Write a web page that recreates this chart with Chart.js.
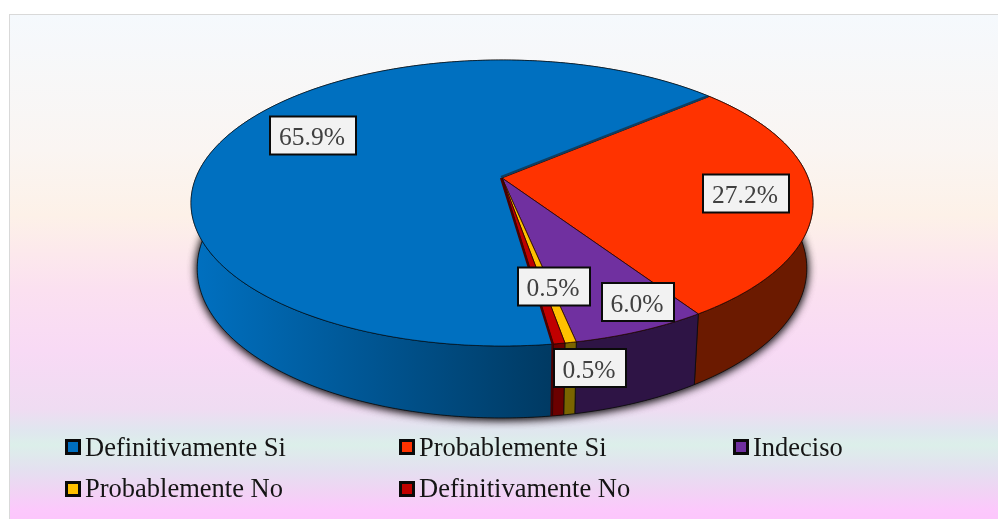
<!DOCTYPE html>
<html>
<head>
<meta charset="utf-8">
<style>html,body{margin:0;padding:0;background:#fff}#w{width:998px;height:519px;position:relative}</style>
<script src="https://cdn.jsdelivr.net/npm/chart.js@4/dist/chart.umd.js"></script>
</head>
<body>
<div id="w"><canvas id="c" width="998" height="519"></canvas></div>
<script>
const categories = ["Definitivamente Si","Probablemente Si","Indeciso","Probablemente No","Definitivamente No"];
const values = [65.9,27.2,6.0,0.5,0.5];
const valueLabels = ["65.9%","27.2%","6.0%","0.5%","0.5%"];
const topColors = ["#0070C0","#FF3300","#7030A0","#FFC000","#C00000"];
const wallColors = [null,"#6B1A00","#2E1445","#7A6400","#6B0000"];

// projection of the unit pie disc on the screen
const P = {x0:502,y0:178,b:306.2,a:138.6,k:0.1748,wx:0.98,dMid:64,dV:8};
// label boxes: centre on the screen, width
const labelBoxes = [[313,135.5,86],[746,193.5,86],[638,302,72],[554,286.5,72],[590,368,72]];
const legendCols = [65,399,733], legendRows = [439,481], legendBaselines = [456,497];

function rimTop(t){const u=Math.cos(t),v=Math.sin(t),w=1-P.k*v;
  return [P.x0+P.b*u/w, P.y0+P.a*v/w, v];}
function rimBot(t){const p=rimTop(t);
  return [P.x0+(p[0]-P.x0)*P.wx, p[1]+P.dMid+P.dV*p[2]];}
function sweep(a,b,f,rev){const n=Math.max(2,Math.ceil(Math.abs(b-a)/0.01)),o=[];
  for(let i=0;i<=n;i++){const j=rev?n-i:i;o.push(f(a+(b-a)*j/n));}return o;}
function path(ctx,pts,cont){pts.forEach((p,i)=>{(i||cont)?ctx.lineTo(p[0],p[1]):ctx.moveTo(p[0],p[1]);});}

const pie3d = {
  id:'pie3d',
  beforeDraw(chart){
    const ctx=chart.ctx;
    ctx.save();
    const g=ctx.createLinearGradient(0,15,0,519);
    [[15,'#f5f9fd'],[150,'#faf5f2'],[215,'#fdf1e8'],[290,'#fbe0f0'],[350,'#f8daf5'],[410,'#efdcf2'],[430,'#e0e6ef'],[445,'#dcefea'],[470,'#e4e0f0'],[490,'#f0d4f4'],[510,'#fcc8fc'],[519,'#fcc6fc']]
      .forEach(s=>g.addColorStop((s[0]-15)/504,s[1]));
    ctx.fillStyle=g;ctx.fillRect(10,15,988,504);
    ctx.fillStyle='#d9d9d9';ctx.fillRect(9,14,989,1);ctx.fillRect(9,14,1,505);
    ctx.restore();
  },
  beforeDatasetsDraw(chart){
    const ctx=chart.ctx, arcs=chart.getDatasetMeta(0).data;
    ctx.save();
    // soft shadow of the whole body
    ctx.save();
    ctx.shadowColor='rgba(0,0,0,0.8)';ctx.shadowBlur=10;ctx.shadowOffsetY=1;
    ctx.fillStyle='#333';
    for(let r=0;r<2;r++){ctx.beginPath();
      path(ctx,sweep(0,Math.PI*2,rimBot));ctx.closePath();ctx.fill();}
    ctx.restore();
    // walls
    const grad=ctx.createLinearGradient(195,0,550,0);
    grad.addColorStop(0,'#0070C0');grad.addColorStop(0.5,'#005592');grad.addColorStop(1,'#003A63');
    arcs.forEach((arc,i)=>{
      ctx.beginPath();
      path(ctx,sweep(arc.startAngle,arc.endAngle,rimTop));
      path(ctx,sweep(arc.startAngle,arc.endAngle,rimBot,true),true);
      ctx.closePath();
      ctx.fillStyle=wallColors[i]||grad;ctx.fill();
      ctx.strokeStyle='rgba(10,10,10,0.85)';ctx.lineWidth=0.9;ctx.stroke();
    });
    // tops
    arcs.forEach((arc,i)=>{
      ctx.beginPath();ctx.moveTo(P.x0,P.y0);
      path(ctx,sweep(arc.startAngle,arc.endAngle,rimTop),true);
      ctx.closePath();
      ctx.fillStyle=topColors[i];ctx.fill();
      ctx.strokeStyle=i===0?'rgba(0,0,0,0.6)':'rgba(40,5,0,0.85)';ctx.lineWidth=0.9;ctx.stroke();
    });
    // the thin inner faces where the big slice is pulled apart
    const e=rimTop(arcs[0].endAngle), s=rimTop(arcs[0].startAngle), sb=rimBot(arcs[0].startAngle);
    ctx.lineCap='butt';
    ctx.strokeStyle='#0F3F62';ctx.lineWidth=2.4;
    ctx.beginPath();ctx.moveTo(P.x0-1,P.y0-1);ctx.lineTo(e[0]-2,e[1]);ctx.stroke();
    ctx.strokeStyle='#4A0000';ctx.lineWidth=2.2;
    ctx.beginPath();ctx.moveTo(P.x0-1,P.y0);ctx.lineTo(s[0]-1,s[1]);ctx.lineTo(sb[0]-1,sb[1]);ctx.stroke();
    ctx.restore();
    return false;
  },
  afterDraw(chart){
    const ctx=chart.ctx;
    ctx.save();
    // value labels
    ctx.font='25.5px "Liberation Serif"';ctx.textAlign='center';ctx.textBaseline='middle';
    labelBoxes.forEach((b,i)=>{
      const w=b[2],h=38;
      ctx.fillStyle='#F2F2F2';ctx.fillRect(b[0]-w/2,b[1]-h/2,w,h);
      ctx.strokeStyle='#0A0A0A';ctx.lineWidth=2;ctx.strokeRect(b[0]-w/2,b[1]-h/2,w,h);
      ctx.fillStyle='#404040';ctx.fillText(valueLabels[i],b[0]-1,b[1]+3);
    });
    // legend
    ctx.font='26.5px "Liberation Serif"';ctx.textAlign='left';ctx.textBaseline='alphabetic';
    categories.forEach((c,i)=>{
      const r=Math.floor(i/3),x=legendCols[i%3],y=legendRows[r];
      ctx.fillStyle=topColors[i];ctx.fillRect(x+1,y+1,14,14);
      ctx.strokeStyle='#0A0A0A';ctx.lineWidth=3;ctx.strokeRect(x+1.5,y+1.5,13,13);
      ctx.fillStyle='#151515';ctx.fillText(c,x+20,legendBaselines[r]);
    });
    ctx.restore();
  }
};

new Chart(document.getElementById('c'),{
  type:'pie',
  data:{labels:categories,datasets:[{data:values,backgroundColor:topColors}]},
  options:{
    responsive:false,animation:false,rotation:172,
    events:[],
    plugins:{legend:{display:false},tooltip:{enabled:false},title:{display:false}}
  },
  plugins:[pie3d]
});
</script>
</body>
</html>
